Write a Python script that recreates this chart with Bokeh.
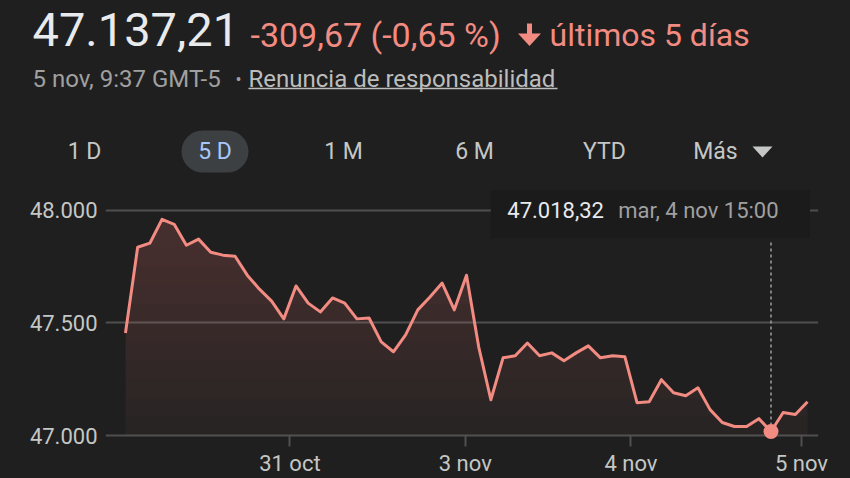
import numpy as np
from bokeh.plotting import figure
from bokeh.layouts import column
from bokeh.models import Range1d, FixedTicker, BoxAnnotation
from bokeh.core.properties import value
from bokeh.embed import file_html
from bokeh.resources import INLINE

# ---------------- data ----------------
values = [47455, 47836, 47854, 47960, 47938, 47845, 47872, 47814, 47801, 47796,
          47712, 47650, 47597, 47518, 47664, 47588, 47549, 47611, 47588, 47518,
          47522, 47416, 47372, 47447, 47558, 47615, 47677, 47558, 47712, 47394,
          47159, 47345, 47354, 47411, 47354, 47367, 47332, 47367, 47398, 47345,
          47354, 47350, 47146, 47150, 47248, 47190, 47177, 47212, 47115, 47058,
          47040, 47040, 47075, 47018, 47102, 47093, 47150]
x_tick_pos = [13.5, 27.9, 41.5, 55.5]
x_tick_labels = ["31 oct", "3 nov", "4 nov", "5 nov"]
y_ticks = [47000, 47500, 48000]
y_tick_labels = ["47.000", "47.500", "48.000"]
hover_idx = 53
hover_value_text = "47.018,32"
hover_time_text = "mar, 4 nov 15:00"
price_text = "47.137,21"
change_text = "-309,67 (-0,65 %)"
period_text = "últimos 5 días"
timestamp_text = "5 nov, 9:37 GMT-5"
bullet_text = "•"
disclaimer_text = "Renuncia de responsabilidad"
range_buttons = ["1 D", "5 D", "1 M", "6 M", "YTD", "Más"]
selected_button = "5 D"

# ---------------- style ----------------
BG = "#1f1f1f"
LINE = "#f28b82"
GRID = "#4f4f4f"
TXT_MAIN = "#e8eaed"
TXT_SUB = "#a0a0a0"
TXT_LINK = "#bdbdbd"
TXT_BTN = "#c4c7c5"
PILL = "#3c4043"
PILL_TXT = "#a8c7fa"
FONT = value("Roboto")

W = 850
HEAD_H = 190
CH_H = 288


def hy(ref_y):
    # header: convert a top-down page pixel row to the header's y data value
    return HEAD_H - ref_y


# ---------------- header ----------------
head = figure(width=W, height=HEAD_H, x_range=Range1d(0, W), y_range=Range1d(0, HEAD_H),
              output_backend="svg", toolbar_location=None, min_border=0,
              x_axis_location=None, y_axis_location=None,
              background_fill_color=BG, border_fill_color=BG, outline_line_color=None)
head.grid.visible = False
if hasattr(head, "frame_align"):
    head.frame_align = False

head.text(x=[32], y=[hy(28.7)], text=[price_text], text_font=FONT, text_font_size="47px",
          text_color=TXT_MAIN, text_baseline="middle")
head.text(x=[250], y=[hy(34.2)], text=[change_text], text_font=FONT, text_font_size="34px",
          text_color=LINE, text_baseline="middle")
# down arrow icon
head.segment(x0=[529], y0=[hy(23)], x1=[529], y1=[hy(37)], line_color=LINE, line_width=5)
head.patch(x=[517.5, 540.5, 529], y=[hy(33), hy(33), hy(45.5)], fill_color=LINE, line_color=None)
head.text(x=[549], y=[hy(34.2)], text=[period_text], text_font=FONT, text_font_size="32px",
          text_color=LINE, text_baseline="middle")

head.text(x=[32], y=[hy(78)], text=[timestamp_text], text_font=FONT, text_font_size="24px",
          text_color=TXT_SUB, text_baseline="middle")
head.text(x=[238], y=[hy(79)], text=[bullet_text], text_font=FONT, text_font_size="18px",
          text_color=TXT_SUB, text_baseline="middle", text_align="center")
head.text(x=[248], y=[hy(78)], text=[disclaimer_text], text_font=FONT, text_font_size="24px",
          text_color=TXT_LINK, text_baseline="middle")
head.segment(x0=[248], y0=[hy(88)], x1=[557], y1=[hy(88)], line_color=TXT_LINK, line_width=1.5)

head.add_layout(BoxAnnotation(left=181, right=248, bottom=hy(172), top=hy(130), fill_color=PILL,
                              fill_alpha=1, line_color=None, border_radius=21, level="underlay"))
btn_x = [84, 214.5, 343, 474, 604, 715]
for bx, lbl in zip(btn_x, range_buttons):
    head.text(x=[bx], y=[hy(151)], text=[lbl], text_font=FONT, text_font_size="23px",
              text_color=PILL_TXT if lbl == selected_button else TXT_BTN,
              text_baseline="middle", text_align="center")
head.patch(x=[752, 772, 762], y=[hy(146), hy(146), hy(157)], fill_color=TXT_BTN, line_color=None)

# ---------------- chart ----------------
x = np.arange(len(values))
v = np.array(values, dtype=float)

Y_TOP = 48088
Y_BOT = 46973.5
chart = figure(width=W, height=CH_H, x_range=Range1d(-1.64, 56.9), y_range=Range1d(Y_BOT, Y_TOP),
               output_backend="svg", toolbar_location=None,
               min_border_left=105, min_border_right=32, min_border_top=0, min_border_bottom=36,
               background_fill_color=BG, border_fill_color=BG, outline_line_color=None)
if hasattr(chart, "frame_align"):
    chart.frame_align = False

# gradient fill built from stacked translucent layers (same linear segments as the line)
xf = np.linspace(0, len(values) - 1, 1200)
vf = np.interp(xf, x, v)
chart.varea(x=xf, y1=y_ticks[0], y2=vf, fill_color=LINE, fill_alpha=0.05)
for L in np.linspace(y_ticks[0], y_ticks[-1], 13)[1:]:
    chart.varea(x=xf, y1=L, y2=np.maximum(vf, L), fill_color=LINE, fill_alpha=0.017)

chart.line(x, v, line_color=LINE, line_width=3, line_join="round")

# tooltip
chart.add_layout(BoxAnnotation(left=hover_idx - 23.0, right=hover_idx + 3.2, top=Y_TOP, bottom=47876,
                               fill_color="#1b1b1c", fill_alpha=1, line_color=None, level="underlay"))
chart.segment(x0=[hover_idx], y0=[v[hover_idx]], x1=[hover_idx], y1=[47868],
              line_color=TXT_SUB, line_width=1.5, line_dash="3 3")
chart.text(x=[hover_idx - 21.65], y=[48000], text=[hover_value_text], text_font=FONT,
           text_font_size="22px", text_color=TXT_MAIN, text_baseline="middle")
chart.text(x=[hover_idx - 12.55], y=[48000], text=[hover_time_text], text_font=FONT,
           text_font_size="22px", text_color=TXT_SUB, text_baseline="middle")
chart.scatter([hover_idx], [v[hover_idx]], size=15, fill_color=LINE, line_color=None)

# axes
chart.yaxis.ticker = FixedTicker(ticks=y_ticks)
chart.yaxis.major_label_overrides = {t: s for t, s in zip(y_ticks, y_tick_labels)}
chart.yaxis.axis_line_color = None
chart.yaxis.major_tick_line_color = None
chart.yaxis.minor_tick_line_color = None
chart.yaxis.major_label_standoff = 2
chart.yaxis.major_label_text_font = "Roboto"
chart.yaxis.major_label_text_font_size = "22px"
chart.yaxis.major_label_text_color = TXT_BTN

chart.xaxis.ticker = FixedTicker(ticks=x_tick_pos)
chart.xaxis.major_label_overrides = {t: s for t, s in zip(x_tick_pos, x_tick_labels)}
chart.xaxis.axis_line_color = None
chart.xaxis.major_tick_line_color = GRID
chart.xaxis.major_tick_line_width = 2
chart.xaxis.major_tick_in = 6
chart.xaxis.major_tick_out = 5
chart.xaxis.minor_tick_line_color = None
chart.xaxis.major_label_standoff = 4
chart.xaxis.major_label_text_font = "Roboto"
chart.xaxis.major_label_text_font_size = "22px"
chart.xaxis.major_label_text_color = TXT_BTN

chart.xgrid.visible = False
chart.ygrid.ticker = FixedTicker(ticks=y_ticks)
chart.ygrid.grid_line_color = GRID
chart.ygrid.grid_line_width = 2

layout = column(head, chart, spacing=0)
layout.styles = {"background-color": BG}

html = file_html(layout, INLINE)
html = html.replace("<body>", "<body style=\"background-color: %s;\">" % BG)
open("out.html", "w").write(html)
